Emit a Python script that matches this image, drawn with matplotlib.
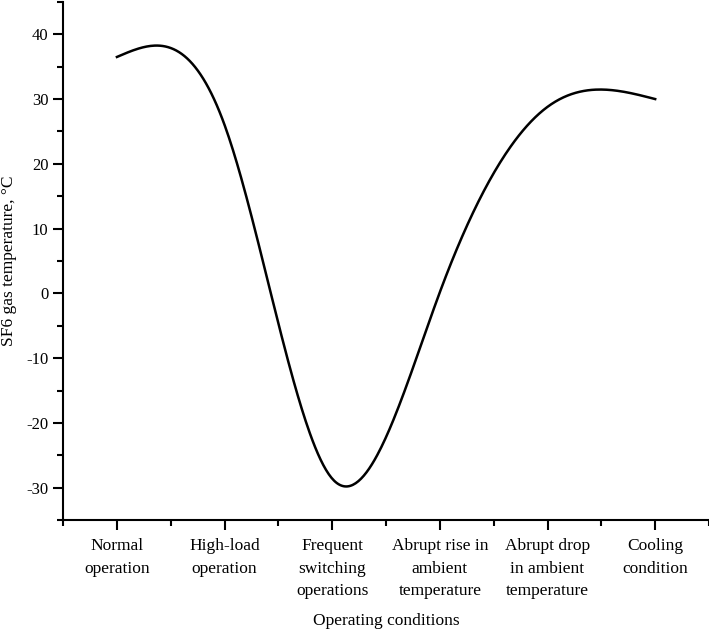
import numpy as np
import matplotlib
matplotlib.use("Agg")
import matplotlib.pyplot as plt
from matplotlib.ticker import MultipleLocator

conditions = [
    "Normal\noperation",
    "High-load\noperation",
    "Frequent\nswitching\noperations",
    "Abrupt rise in\nambient\ntemperature",
    "Abrupt drop\nin ambient\ntemperature",
    "Cooling\ncondition",
]
temperature = [36.5, 26.0, -28.6, 0.2, 28.8, 30.0]


def natural_spline(x, y, xs):
    x = np.asarray(x, float)
    y = np.asarray(y, float)
    n = len(x)
    h = np.diff(x)
    A = np.zeros((n, n))
    b = np.zeros(n)
    A[0, 0] = A[-1, -1] = 1
    for i in range(1, n - 1):
        A[i, i - 1] = h[i - 1]
        A[i, i] = 2 * (h[i - 1] + h[i])
        A[i, i + 1] = h[i]
        b[i] = 3 * ((y[i + 1] - y[i]) / h[i] - (y[i] - y[i - 1]) / h[i - 1])
    c = np.linalg.solve(A, b)
    out = np.empty_like(xs)
    for k, xv in enumerate(xs):
        i = min(max(np.searchsorted(x, xv) - 1, 0), n - 2)
        bi = (y[i + 1] - y[i]) / h[i] - h[i] * (2 * c[i] + c[i + 1]) / 3
        di = (c[i + 1] - c[i]) / (3 * h[i])
        t = xv - x[i]
        out[k] = y[i] + bi * t + c[i] * t**2 + di * t**3
    return out


plt.rcParams["font.family"] = ["Liberation Serif", "DejaVu Serif"]
plt.rcParams["font.size"] = 12.5
plt.rcParams["axes.unicode_minus"] = False

fig = plt.figure(figsize=(7.09, 6.32), dpi=100)
ax = fig.add_axes([0.089, 0.177, 0.911, 0.82])

xi = np.arange(len(temperature))
xs = np.linspace(0, len(temperature) - 1, 400)
ax.plot(xs, natural_spline(xi, temperature, xs), color="black", lw=1.8)

ax.set_xlim(-0.5, 5.5)
ax.set_ylim(-35, 45)
ax.set_xticks(xi)
ax.set_xticklabels(conditions, linespacing=1.55)
ax.xaxis.set_minor_locator(MultipleLocator(1, offset=0.5))
ax.yaxis.set_major_locator(MultipleLocator(10))
ax.yaxis.set_minor_locator(MultipleLocator(5))
ax.tick_params(which="major", direction="out", length=7, width=1.5)
ax.tick_params(which="minor", direction="out", length=4, width=1.5)
ax.tick_params(axis="x", pad=6)
ax.tick_params(axis="y", labelsize=12)
for s in ["top", "right"]:
    ax.spines[s].set_visible(False)
for s in ["left", "bottom"]:
    ax.spines[s].set_linewidth(1.5)

ax.set_xlabel("Operating conditions")
ax.set_ylabel("SF6 gas temperature, °C")
ax.xaxis.set_label_coords(0.5, -0.18)
ax.yaxis.set_label_coords(-0.071, 0.5)

fig.savefig("out.png", dpi=100)
